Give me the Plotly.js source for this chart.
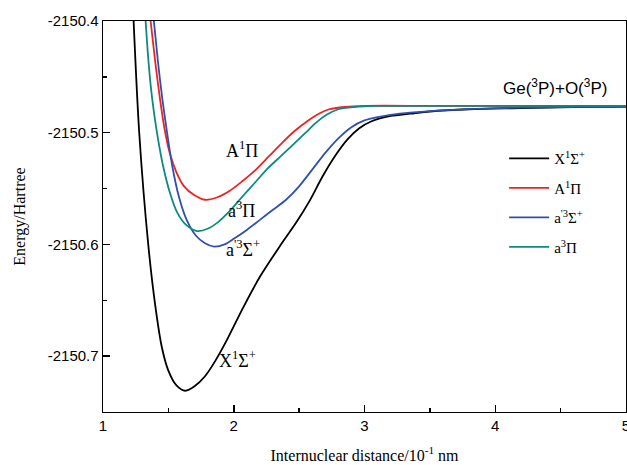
<!DOCTYPE html>
<html>
<head>
<meta charset="utf-8">
<script src="https://cdn.plot.ly/plotly-3.0.1.min.js"></script>
<style>html,body{margin:0;padding:0;background:#fff;}#chart{width:627px;height:465px;}</style>
</head>
<body>
<div id="chart"></div>
<script>
// Internuclear distance (10^-1 nm) and energy (Hartree) for each state
const seriesNames = ["X<sup>1</sup>Σ<sup>+</sup>", "A<sup>1</sup>Π", "a<sup>'3</sup>Σ<sup>+</sup>", "a<sup>3</sup>Π"];
const seriesColors = ["#000000", "#ee2222", "#3050b0", "#0d8a80"];

const xX = [1.234, 1.277, 1.346, 1.40, 1.45, 1.50, 1.56, 1.63, 1.70, 1.78, 1.86, 1.95, 2.07, 2.20, 2.35, 2.48, 2.58, 2.68, 2.78, 2.87, 2.96, 3.05, 3.2, 3.35, 3.5, 3.8, 4.2, 4.6, 5.0];
const eX = [-2150.400, -2150.500, -2150.600, -2150.655, -2150.692, -2150.713, -2150.726, -2150.731, -2150.727, -2150.718, -2150.704, -2150.685, -2150.657, -2150.629, -2150.602, -2150.580, -2150.561, -2150.539, -2150.520, -2150.506, -2150.496, -2150.490, -2150.485, -2150.483, -2150.481, -2150.479, -2150.478, -2150.477, -2150.477];

const xA = [1.364, 1.40, 1.435, 1.47, 1.51, 1.56, 1.62, 1.70, 1.78, 1.87, 1.97, 2.07, 2.17, 2.27, 2.37, 2.47, 2.57, 2.65, 2.73, 2.85, 3.0, 3.5, 4.0, 5.0];
const eA = [-2150.400, -2150.437, -2150.469, -2150.496, -2150.518, -2150.535, -2150.548, -2150.556, -2150.560, -2150.558, -2150.552, -2150.543, -2150.533, -2150.521, -2150.509, -2150.498, -2150.489, -2150.483, -2150.479, -2150.477, -2150.476, -2150.476, -2150.476, -2150.476];

const xS = [1.389, 1.42, 1.453, 1.49, 1.53, 1.58, 1.64, 1.71, 1.78, 1.85, 1.93, 2.0, 2.1, 2.2, 2.3, 2.4, 2.5, 2.6, 2.7, 2.8, 2.9, 3.0, 3.1, 3.2, 3.35, 3.6, 4.0, 4.5, 5.0];
const eS = [-2150.400, -2150.436, -2150.469, -2150.500, -2150.530, -2150.557, -2150.578, -2150.592, -2150.599, -2150.602, -2150.600, -2150.595, -2150.587, -2150.578, -2150.569, -2150.560, -2150.548, -2150.533, -2150.518, -2150.505, -2150.495, -2150.489, -2150.486, -2150.484, -2150.482, -2150.480, -2150.478, -2150.477, -2150.477];

const xP = [1.326, 1.345, 1.365, 1.39, 1.42, 1.46, 1.51, 1.57, 1.64, 1.72, 1.80, 1.88, 1.97, 2.06, 2.16, 2.26, 2.36, 2.46, 2.55, 2.63, 2.71, 2.80, 2.92, 3.1, 3.6, 4.2, 5.0];
const eP = [-2150.400, -2150.432, -2150.458, -2150.482, -2150.505, -2150.530, -2150.553, -2150.572, -2150.583, -2150.588, -2150.586, -2150.580, -2150.570, -2150.558, -2150.545, -2150.532, -2150.521, -2150.510, -2150.500, -2150.491, -2150.484, -2150.479, -2150.477, -2150.476, -2150.476, -2150.476, -2150.476];

const xTickVals = [1, 2, 3, 4, 5];
const xMinorVals = [1.5, 2.5, 3.5, 4.5];
const yTickVals = [-2150.4, -2150.5, -2150.6, -2150.7];
const yMinorVals = [-2150.45, -2150.55, -2150.65];
const yTickText = ["-2150.4", "-2150.5", "-2150.6", "-2150.7"];

const serif = "Liberation Serif, Times New Roman, serif";
const sans = "Liberation Sans, Arial, sans-serif";

const xs = [xX, xA, xS, xP];
const es = [eX, eA, eS, eP];
const traces = xs.map((xv, i) => ({
  x: xv, y: es[i], type: "scatter", mode: "lines",
  name: seriesNames[i], legendgroup: "g" + i,
  line: {color: seriesColors[i], width: 1.8, shape: "spline", smoothing: 0.8}
}));

const layout = {
  width: 627, height: 465,
  margin: {l: 103, r: 1, t: 21, b: 53},
  paper_bgcolor: "#fff", plot_bgcolor: "#fff",
  showlegend: true,
  legend: {x: 0.767, y: 0.69, xanchor: "left", yanchor: "top", bgcolor: "rgba(0,0,0,0)",
           font: {family: serif, size: 15, color: "#000"}, traceorder: "grouped", tracegroupgap: 7, itemwidth: 40},
  xaxis: {
    range: [1, 5], tickmode: "array", tickvals: xTickVals, ticktext: xTickVals.map(String),
    ticks: "inside", ticklen: 7, tickwidth: 1.5, tickcolor: "#000",
    showline: true, linewidth: 1.4, linecolor: "#000", mirror: true, showgrid: false, zeroline: false,
    tickfont: {family: sans, size: 15, color: "#000"}, ticklabeloverflow: "allow",
    minor: {tickmode: "array", tickvals: xMinorVals, ticks: "inside", ticklen: 4, tickwidth: 1.5, tickcolor: "#000", showgrid: false},
    title: {text: "Internuclear distance/10<sup>-1</sup> nm", font: {family: serif, size: 16, color: "#000"}, standoff: 16}},
  yaxis: {
    range: [-2150.75, -2150.4], tickmode: "array", tickvals: yTickVals, ticktext: yTickText,
    ticks: "inside", ticklen: 7, tickwidth: 1.5, tickcolor: "#000",
    showline: true, linewidth: 1.4, linecolor: "#000", mirror: true, showgrid: false, zeroline: false,
    tickfont: {family: sans, size: 15, color: "#000"},
    minor: {tickmode: "array", tickvals: yMinorVals, ticks: "inside", ticklen: 4, tickwidth: 1.5, tickcolor: "#000", showgrid: false},
    title: {text: "Energy/Hartree", font: {family: serif, size: 16, color: "#000"}, standoff: 18}},
  annotations: [
    {x: 4.87, y: -2150.459, xref: "x", yref: "y", text: "Ge(<sup>3</sup>P)+O(<sup>3</sup>P)", showarrow: false, xanchor: "right", yanchor: "middle", font: {family: sans, size: 17, color: "#000"}},
    {x: 2.061, y: -2150.515, xref: "x", yref: "y", text: "A<sup>1</sup>Π", showarrow: false, xanchor: "center", yanchor: "middle", font: {family: serif, size: 18, color: "#000"}},
    {x: 2.061, y: -2150.569, xref: "x", yref: "y", text: "a<sup>3</sup>Π", showarrow: false, xanchor: "center", yanchor: "middle", font: {family: serif, size: 18, color: "#000"}},
    {x: 2.07, y: -2150.604, xref: "x", yref: "y", text: "a<sup>'3</sup>Σ<sup>+</sup>", showarrow: false, xanchor: "center", yanchor: "middle", font: {family: serif, size: 18, color: "#000"}},
    {x: 2.03, y: -2150.703, xref: "x", yref: "y", text: "X<sup>1</sup>Σ<sup>+</sup>", showarrow: false, xanchor: "center", yanchor: "middle", font: {family: serif, size: 18, color: "#000"}}
  ]
};

Plotly.newPlot("chart", traces, layout, {displayModeBar: false, staticPlot: true});
</script>
</body>
</html>
